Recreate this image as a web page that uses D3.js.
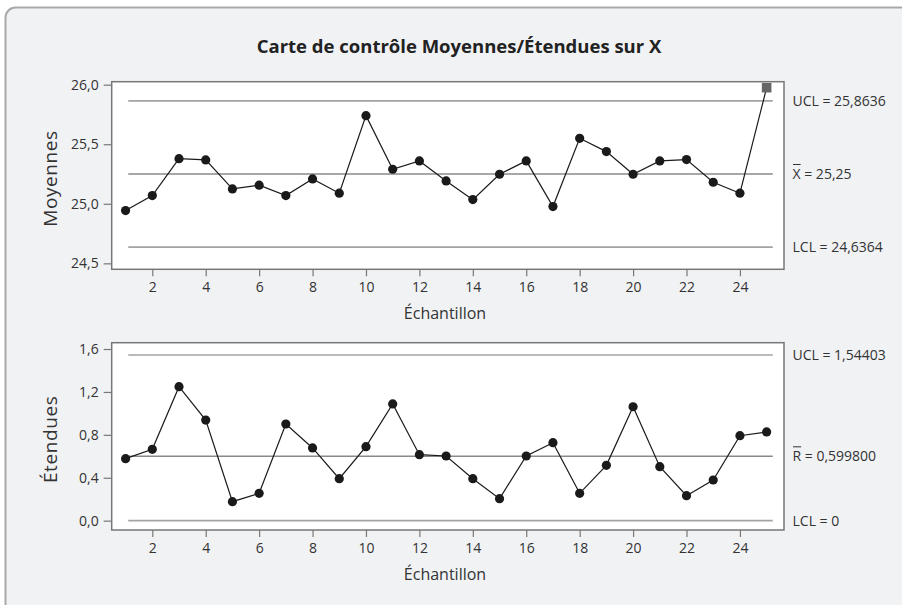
<!DOCTYPE html>
<html>
<head>
<meta charset="utf-8">
<script src="https://cdn.jsdelivr.net/npm/d3@7"></script>
<style>
  body { margin: 0; background: #fff; }
  svg { display: block; font-family: "Open Sans", sans-serif; }
</style>
</head>
<body>
<div id="chart"></div>
<script>
// sample numbers 1..25
const samples = d3.range(1, 26);
// subgroup means
const means = [24.943, 25.069, 25.379, 25.368, 25.125, 25.156, 25.069, 25.209, 25.089, 25.740,
               25.290, 25.360, 25.192, 25.035, 25.248, 25.360, 24.977, 25.550, 25.438, 25.248,
               25.360, 25.371, 25.181, 25.089, 25.975];
// subgroup ranges
const ranges = [0.578, 0.665, 1.249, 0.938, 0.177, 0.255, 0.901, 0.678, 0.391, 0.690,
                1.088, 0.615, 0.603, 0.391, 0.205, 0.603, 0.727, 0.255, 0.516, 1.062,
                0.503, 0.233, 0.379, 0.792, 0.827];
const meanLimits = { ucl: 25.8636, center: 25.25, lcl: 24.6364 };
const rangeLimits = { ucl: 1.54403, center: 0.5998, lcl: 0 };
const meanLabels = ["UCL = 25,8636", "= 25,25", "LCL = 24,6364"];
const rangeLabels = ["UCL = 1,54403", "= 0,599800", "LCL = 0"];
const meanTicks = [24.5, 25.0, 25.5, 26.0];
const rangeTicks = [0, 0.4, 0.8, 1.2, 1.6];
const xTicks = d3.range(2, 25, 2);

const width = 902, height = 605;
const fmt = d => d3.format(".1f")(d).replace(".", ",");

const svg = d3.select("#chart").append("svg")
    .attr("width", width)
    .attr("height", height);

// outer panel
svg.append("rect")
    .attr("x", 5.5).attr("y", 7.5)
    .attr("width", 930).attr("height", 640)
    .attr("rx", 10)
    .attr("fill", "#f1f2f4")
    .attr("stroke", "#a9a9a9")
    .attr("stroke-width", 2);

svg.append("text")
    .attr("x", 459).attr("y", 53)
    .attr("text-anchor", "middle")
    .attr("font-size", 18.5)
    .attr("font-weight", "bold")
    .attr("fill", "#222")
    .text("Carte de contrôle Moyennes/Étendues sur X");

const x = d3.scaleLinear().domain([0.48, 25.65]).range([111.7, 784]);

function drawPanel(opt) {
    const y = d3.scaleLinear().domain(opt.domain).range([opt.bottom, opt.top]);
    const g = svg.append("g");

    g.append("rect")
        .attr("x", 111.7).attr("y", opt.top)
        .attr("width", 784 - 111.7).attr("height", opt.bottom - opt.top)
        .attr("fill", "#fff")
        .attr("stroke", "#777")
        .attr("stroke-width", 1.5);

    // axes
    const xAxis = g.append("g")
        .attr("transform", `translate(0,${opt.bottom})`)
        .call(d3.axisBottom(x).tickValues(xTicks).tickSize(7).tickPadding(6));
    const yAxis = g.append("g")
        .attr("transform", "translate(111.7,0)")
        .call(d3.axisLeft(y).tickValues(opt.ticks).tickFormat(fmt).tickSize(8).tickPadding(5));
    [xAxis, yAxis].forEach(a => {
        a.select(".domain").remove();
        a.selectAll("line").attr("stroke", "#777").attr("stroke-width", 1.2);
        a.selectAll("text").attr("font-size", 14).attr("fill", "#333")
            .attr("font-family", "Open Sans, sans-serif");
    });

    g.append("text")
        .attr("x", 445).attr("y", opt.bottom + 50)
        .attr("text-anchor", "middle")
        .attr("font-size", 16).attr("fill", "#333")
        .text("Échantillon");

    g.append("text")
        .attr("transform", `translate(57,${(opt.top + opt.bottom) / 2 + 3}) rotate(-90)`)
        .attr("text-anchor", "middle")
        .attr("font-size", 19).attr("letter-spacing", 0.6).attr("fill", "#333")
        .text(opt.title);

    // control lines
    const lim = [opt.limits.ucl, opt.limits.center, opt.limits.lcl];
    g.selectAll(".ctl").data(lim).enter().append("line")
        .attr("x1", x(1.1)).attr("x2", x(25.23))
        .attr("y1", d => y(d)).attr("y2", d => y(d))
        .attr("stroke", (d, i) => i === 1 ? "#8a8a8a" : "#a3a3a3")
        .attr("stroke-width", 1.6);

    lim.forEach((v, i) => {
        const t = g.append("text")
            .attr("x", 792.5).attr("y", y(v) + 5)
            .attr("font-size", 14).attr("fill", "#333");
        if (i === 1) {
            const sym = t.append("tspan").text(opt.symbol);
            t.append("tspan").text(" " + opt.labels[i]);
            const w = sym.node().getComputedTextLength();
            g.append("line")
                .attr("x1", 793).attr("x2", 792.5 + w)
                .attr("y1", y(v) - 9.5).attr("y2", y(v) - 9.5)
                .attr("stroke", "#333").attr("stroke-width", 1);
        } else {
            t.text(opt.labels[i]);
        }
    });

    // series
    const line = d3.line().x((d, i) => x(samples[i])).y(d => y(d));
    g.append("path")
        .datum(opt.values)
        .attr("d", line)
        .attr("fill", "none")
        .attr("stroke", "#1a1a1a")
        .attr("stroke-width", 1.2);

    // points outside the limits are drawn as grey squares
    const out = d => d > opt.limits.ucl || d < opt.limits.lcl;
    opt.values.forEach((v, i) => {
        if (out(v)) {
            g.append("rect")
                .attr("x", x(samples[i]) - 4.8).attr("y", y(v) - 4.8)
                .attr("width", 9.6).attr("height", 9.6)
                .attr("fill", "#666");
        } else {
            g.append("circle")
                .attr("cx", x(samples[i])).attr("cy", y(v))
                .attr("r", 4.6)
                .attr("fill", "#1a1a1a");
        }
    });
}

drawPanel({
    top: 81.7, bottom: 269.3,
    domain: [24.45, 26.025],
    ticks: meanTicks,
    values: means,
    limits: meanLimits,
    labels: meanLabels,
    symbol: "X",
    title: "Moyennes"
});

drawPanel({
    top: 342.7, bottom: 530,
    domain: [-0.087, 1.659],
    ticks: rangeTicks,
    values: ranges,
    limits: rangeLimits,
    labels: rangeLabels,
    symbol: "R",
    title: "Étendues"
});
</script>
</body>
</html>
